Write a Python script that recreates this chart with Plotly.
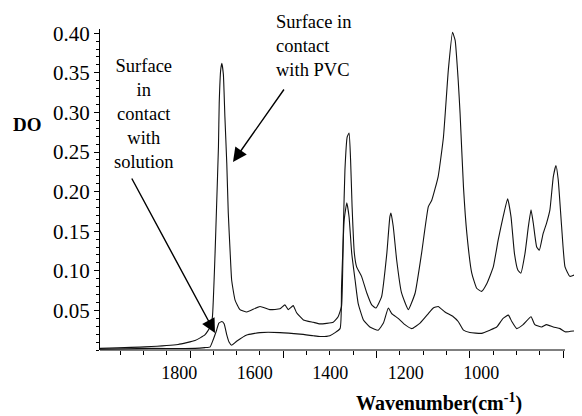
import plotly.graph_objects as go

# ---- data ----
pvc_wn = [2010, 1891, 1803, 1758, 1732, 1718, 1712, 1705, 1701, 1696,
          1694, 1690, 1687, 1683, 1679, 1674, 1670, 1665, 1661, 1652,
          1639, 1621, 1586, 1560, 1533, 1520, 1511, 1498, 1489, 1471,
          1445, 1427, 1392, 1379, 1370, 1365, 1361, 1355, 1350, 1346,
          1342, 1336, 1330, 1317, 1303, 1290, 1279, 1264, 1250, 1242,
          1239, 1233, 1224, 1211, 1193, 1175, 1158, 1140, 1131, 1114,
          1100, 1087, 1076, 1069, 1061, 1056, 1047, 1038, 1025, 1012,
          999, 985, 968, 955, 942, 930, 921, 912, 903, 895,
          884, 875, 868, 862, 853, 846, 836, 827, 818, 809,
          802, 796, 787, 778, 765, 752, 738, 734]
pvc_do = [0.002, 0.004, 0.007, 0.012, 0.019, 0.029, 0.042, 0.122, 0.181, 0.257,
          0.312, 0.354, 0.362, 0.348, 0.295, 0.236, 0.173, 0.123, 0.088, 0.063,
          0.051, 0.048, 0.055, 0.051, 0.052, 0.057, 0.051, 0.056, 0.047, 0.038,
          0.035, 0.033, 0.035, 0.042, 0.055, 0.156, 0.227, 0.269, 0.274, 0.240,
          0.181, 0.122, 0.105, 0.093, 0.072, 0.057, 0.053, 0.067, 0.122, 0.168,
          0.173, 0.156, 0.114, 0.072, 0.051, 0.072, 0.122, 0.181, 0.189, 0.219,
          0.269, 0.354, 0.401, 0.391, 0.341, 0.299, 0.206, 0.147, 0.097, 0.078,
          0.074, 0.084, 0.105, 0.139, 0.168, 0.191, 0.168, 0.122, 0.101, 0.097,
          0.122, 0.156, 0.177, 0.160, 0.130, 0.126, 0.147, 0.160, 0.177, 0.219,
          0.233, 0.215, 0.156, 0.105, 0.093, 0.095, 0.105, 0.110]

sol_wn = [2010, 1877, 1758, 1732, 1718, 1710, 1701, 1695, 1687, 1681,
          1674, 1668, 1661, 1648, 1621, 1586, 1533, 1480, 1445, 1427,
          1401, 1374, 1370, 1363, 1356, 1350, 1343, 1334, 1326, 1312,
          1295, 1273, 1259, 1246, 1237, 1220, 1202, 1184, 1162, 1140,
          1127, 1114, 1096, 1074, 1061, 1047, 1030, 999, 977, 959,
          942, 928, 919, 906, 889, 868, 858, 840, 827, 809,
          791, 778, 756, 734]
sol_do = [0.001, 0.002, 0.002, 0.003, 0.004, 0.013, 0.025, 0.034, 0.036, 0.033,
          0.019, 0.010, 0.006, 0.011, 0.019, 0.022, 0.022, 0.020, 0.018, 0.017,
          0.018, 0.027, 0.080, 0.164, 0.186, 0.168, 0.122, 0.088, 0.059, 0.038,
          0.029, 0.025, 0.034, 0.053, 0.046, 0.040, 0.032, 0.027, 0.034, 0.046,
          0.053, 0.055, 0.048, 0.042, 0.036, 0.025, 0.022, 0.021, 0.025, 0.029,
          0.040, 0.044, 0.036, 0.027, 0.032, 0.042, 0.032, 0.029, 0.032, 0.029,
          0.027, 0.023, 0.024, 0.026]

x_tick_labels = [1800, 1600, 1400, 1200, 1000]
y_tick_values = [0.05, 0.10, 0.15, 0.20, 0.25, 0.30, 0.35, 0.40]

FONT = "Liberation Serif"
X_RANGE = [2009.8, 733]
Y_RANGE = [0, 0.4053]

fig = go.Figure()
line_style = dict(color="#111111", width=1.1, shape="spline", smoothing=0.4)
fig.add_trace(go.Scatter(x=pvc_wn, y=pvc_do, mode="lines", line=line_style,
                         hoverinfo="skip", showlegend=False))
fig.add_trace(go.Scatter(x=sol_wn, y=sol_do, mode="lines", line=line_style,
                         hoverinfo="skip", showlegend=False))
# empty trace so the label axis exists
fig.add_trace(go.Scatter(x=[], y=[], xaxis="x2", showlegend=False, hoverinfo="skip"))

# the page body has an 8px default margin, so the figure is 8px smaller
fig.update_layout(
    width=574, height=408,
    margin=dict(l=92, r=0, t=21, b=66),
    paper_bgcolor="white", plot_bgcolor="white",
    font=dict(family=FONT, color="black", size=18),
    xaxis=dict(
        range=X_RANGE, showgrid=False, zeroline=False, showline=False,
        tickmode="linear", tick0=1771.4, dtick=247.2,
        ticks="outside", ticklen=7, tickwidth=1, tickcolor="black",
        showticklabels=False,
        minor=dict(tickmode="linear", tick0=1771.4, dtick=61.8,
                   ticks="outside", ticklen=4, tickwidth=1, tickcolor="black"),
    ),
    xaxis2=dict(
        range=X_RANGE, overlaying="x", side="bottom", anchor="y",
        showgrid=False, zeroline=False, showline=False,
        tickmode="array", tickvals=x_tick_labels,
        ticktext=[str(v) for v in x_tick_labels],
        ticks="", tickfont=dict(family=FONT, size=18, color="black"),
        ticklabelstandoff=10,
    ),
    yaxis=dict(
        range=Y_RANGE, showgrid=False, zeroline=False,
        showline=True, linecolor="black", linewidth=1,
        tickmode="array", tickvals=y_tick_values,
        ticktext=[f"{v:.2f}" for v in y_tick_values],
        ticks="outside", ticklen=5, tickwidth=1, tickcolor="black",
        tickfont=dict(family=FONT, size=21, color="black"),
        minor=dict(tickmode="linear", tick0=0, dtick=0.01,
                   ticks="outside", ticklen=3, tickwidth=1, tickcolor="black"),
    ),
)

# x axis line (stops short of the right edge, as in the reference)
fig.add_shape(type="line", xref="paper", yref="paper", x0=0, x1=0.9647, y0=0, y1=0,
              line=dict(color="black", width=1), layer="above")

annots = [
    dict(text="<b>DO</b>", xref="paper", yref="paper", x=-0.150, y=0.701,
         showarrow=False, xanchor="center", yanchor="middle", font=dict(size=19)),
    dict(text="<b>Wavenumber(cm<sup>-1</sup>)</b>", xref="paper", yref="paper",
         x=0.704, y=-0.163, showarrow=False, xanchor="center", yanchor="middle",
         font=dict(size=20)),
    dict(text="Surface<br>in<br>contact<br>with<br>solution", xref="paper", yref="paper",
         x=0.0913, y=0.735, showarrow=False, xanchor="center", yanchor="middle",
         align="center", font=dict(size=18.5)),
    dict(text="Surface in<br>contact<br>with PVC", xref="paper", yref="paper",
         x=0.361, y=0.948, showarrow=False, xanchor="left", yanchor="middle",
         align="left", font=dict(size=18.5)),
    dict(text="", x=1657.5, y=0.2374, xref="x", yref="y", showarrow=True,
         ax=52, ay=-74, arrowhead=2, arrowsize=2, arrowwidth=1.4,
         arrowcolor="black", standoff=0),
    dict(text="", x=1705.2, y=0.0215, xref="x", yref="y", showarrow=True,
         ax=-84, ay=-156, arrowhead=2, arrowsize=2, arrowwidth=1.4,
         arrowcolor="black", standoff=0),
]
for a in annots:
    fig.add_annotation(**a)

fig.write_html("out.html")
